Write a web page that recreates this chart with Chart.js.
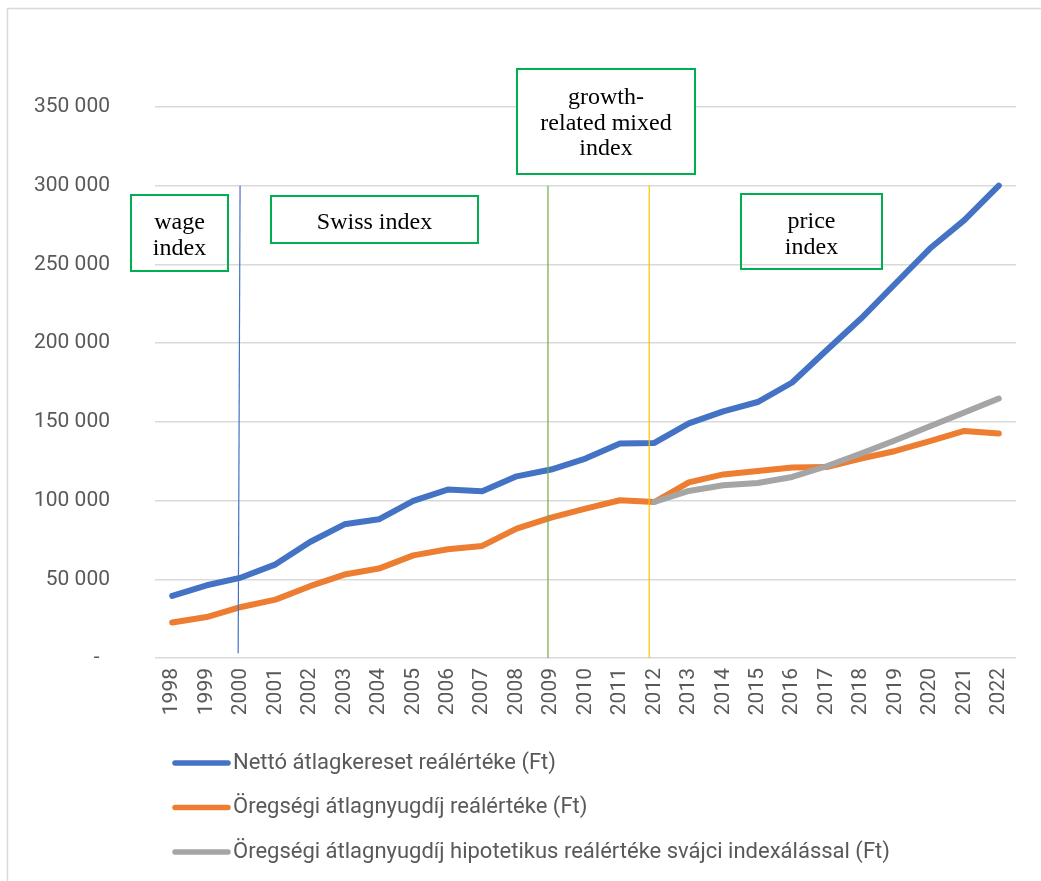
<!DOCTYPE html>
<html>
<head>
<meta charset="utf-8">
<script src="https://cdn.jsdelivr.net/npm/chart.js@4/dist/chart.umd.min.js"></script>
<style>
  html, body { margin: 0; padding: 0; background: #ffffff; }
  #wrap { position: relative; width: 1041px; height: 881px; }
  canvas { display: block; }
</style>
</head>
<body>
<div id="wrap"><canvas id="chart" width="1041" height="881"></canvas></div>
<script>
// Years on the category axis
const years = ['1998','1999','2000','2001','2002','2003','2004','2005','2006','2007','2008','2009','2010',
               '2011','2012','2013','2014','2015','2016','2017','2018','2019','2020','2021','2022'];

// Real value of the net average wage (Ft)
const netWage = [39400, 46200, 51100, 59500, 73700, 84900, 88100, 99800, 107000, 105900, 115400, 119700, 126700,
                 136200, 136600, 149000, 156700, 162600, 175000, 195500, 215600, 237900, 260100, 278100, 300000];

// Real value of the average old-age pension (Ft)
const pension = [22500, 26000, 32400, 37100, 45600, 53000, 56800, 65200, 69100, 71200, 82200, 89200, 94900,
                 100200, 99100, 111600, 116600, 118800, 121000, 121300, 126700, 131500, 137700, 144200, 142600];

// Hypothetical pension with Swiss indexation, from 2012 on (Ft)
const swissPension = [null, null, null, null, null, null, null, null, null, null, null, null, null,
                      null, 99100, 106100, 109700, 111200, 115000, 121800, 129900, 138300, 147200, 155900, 164800];

const seriesNames = [
  'Nettó átlagkereset reálértéke (Ft)',
  'Öregségi átlagnyugdíj reálértéke (Ft)',
  'Öregségi átlagnyugdíj hipotetikus reálértéke svájci indexálással (Ft)'
];

// Y axis ticks
const yTicks = [0, 50000, 100000, 150000, 200000, 250000, 300000, 350000];

// Indexation regime boundaries (year, line colour)
const regimeYears = ['2000', '2009', '2012'];
const regimeColors = ['#4472C4', '#70AD47', '#FFC000'];

// Text boxes naming each indexation regime
const regimeLabels = [['wage', 'index'], ['Swiss index'], ['growth-', 'related mixed', 'index'], ['price', 'index']];

const LABEL_FONT = 'Roboto, "Liberation Sans", sans-serif';
const LABEL_COLOR = '#595959';

function fmtThousands(v) {
  if (v === 0) return '-  ';
  return String(v).replace(/\B(?=(\d{3})+(?!\d))/g, ' ');
}

// Frame, regime boundary lines, text boxes and the legend
const overlay = {
  id: 'overlay',
  beforeDraw(chart) {
    const ctx = chart.ctx;
    ctx.save();
    ctx.strokeStyle = '#d9d9d9';
    ctx.lineWidth = 1.5;
    ctx.beginPath();
    ctx.moveTo(7.5, 881);
    ctx.lineTo(7.5, 8.5);
    ctx.lineTo(1041, 8.5);
    ctx.stroke();
    ctx.restore();
  },
  afterDatasetsDraw(chart) {
    const ctx = chart.ctx;
    const xs = chart.scales.x, ys = chart.scales.y;
    ctx.save();
    // boundary lines
    const shifts = [[-0.03, -0.085], [-0.09, -0.09], [-0.15, -0.15]];
    const bottoms = [3000, 0, 0];
    regimeYears.forEach((yr, i) => {
      const idx = years.indexOf(yr);
      ctx.strokeStyle = regimeColors[i];
      ctx.lineWidth = 1.2;
      ctx.beginPath();
      ctx.moveTo(xs.getPixelForValue(idx + shifts[i][0]), ys.getPixelForValue(300000));
      ctx.lineTo(xs.getPixelForValue(idx + shifts[i][1]), ys.getPixelForValue(bottoms[i]));
      ctx.stroke();
    });

    // regime text boxes: [left, top, right, bottom, first baseline, filled]
    const boxes = [
      [131, 195, 228, 271, 229, false],
      [271, 196, 478, 243, 229, false],
      [517, 69, 695, 174, 104, true],
      [741, 194, 882, 269, 228, false]
    ];
    ctx.font = '24px "Liberation Serif", "Times New Roman", serif';
    ctx.textAlign = 'center';
    ctx.textBaseline = 'alphabetic';
    boxes.forEach((b, i) => {
      const [l, t, r, btm, base, filled] = b;
      if (filled) {
        ctx.fillStyle = '#ffffff';
        ctx.fillRect(l, t, r - l, btm - t);
      }
      ctx.strokeStyle = '#00B050';
      ctx.lineWidth = 2;
      ctx.strokeRect(l, t, r - l, btm - t);
      ctx.fillStyle = '#000000';
      regimeLabels[i].forEach((line, k) => {
        ctx.fillText(line, (l + r) / 2, base + k * 25.5);
      });
    });
    ctx.restore();
  },
  afterDraw(chart) {
    const ctx = chart.ctx;
    ctx.save();
    ctx.font = '22px ' + LABEL_FONT;
    ctx.textAlign = 'left';
    ctx.textBaseline = 'middle';
    chart.data.datasets.forEach((ds, i) => {
      const y = 763 + i * 44.5;
      ctx.strokeStyle = ds.borderColor;
      ctx.lineWidth = 5.5;
      ctx.lineCap = 'round';
      ctx.beginPath();
      ctx.moveTo(175, y);
      ctx.lineTo(228, y);
      ctx.stroke();
      ctx.fillStyle = LABEL_COLOR;
      ctx.fillText(ds.label, 233, y);
    });
    ctx.restore();
  }
};

const lineStyle = {
  borderWidth: 6,
  pointRadius: 0,
  pointHoverRadius: 0,
  borderCapStyle: 'round',
  borderJoinStyle: 'round',
  tension: 0,
  spanGaps: false
};

new Chart(document.getElementById('chart'), {
  type: 'line',
  data: {
    labels: years,
    datasets: [
      Object.assign({ label: seriesNames[0], data: netWage, borderColor: '#4472C4', order: 3 }, lineStyle),
      Object.assign({ label: seriesNames[1], data: pension, borderColor: '#ED7D31', order: 2 }, lineStyle),
      Object.assign({ label: seriesNames[2], data: swissPension, borderColor: '#A5A5A5', order: 1 }, lineStyle)
    ]
  },
  options: {
    responsive: false,
    animation: false,
    events: [],
    layout: { padding: { top: 107, right: 25, left: 0, bottom: 0 } },
    plugins: { legend: { display: false }, tooltip: { enabled: false } },
    scales: {
      x: {
        type: 'category',
        offset: true,
        grid: { display: false, drawTicks: false },
        border: { display: false },
        ticks: {
          autoSkip: false,
          minRotation: 90,
          maxRotation: 90,
          padding: 10,
          color: LABEL_COLOR,
          font: { family: LABEL_FONT, size: 21 }
        },
        afterFit(scale) { scale.height = 223; }
      },
      y: {
        min: 0,
        max: 350000,
        afterBuildTicks(scale) { scale.ticks = yTicks.map(v => ({ value: v })); },
        grid: { color: '#d9d9d9', lineWidth: 1.5, drawTicks: false },
        border: { display: false },
        ticks: {
          padding: 45,
          color: LABEL_COLOR,
          font: { family: LABEL_FONT, size: 21 },
          callback: v => fmtThousands(v)
        },
        afterFit(scale) { scale.width = 155; }
      }
    }
  },
  plugins: [overlay]
});
</script>
</body>
</html>
